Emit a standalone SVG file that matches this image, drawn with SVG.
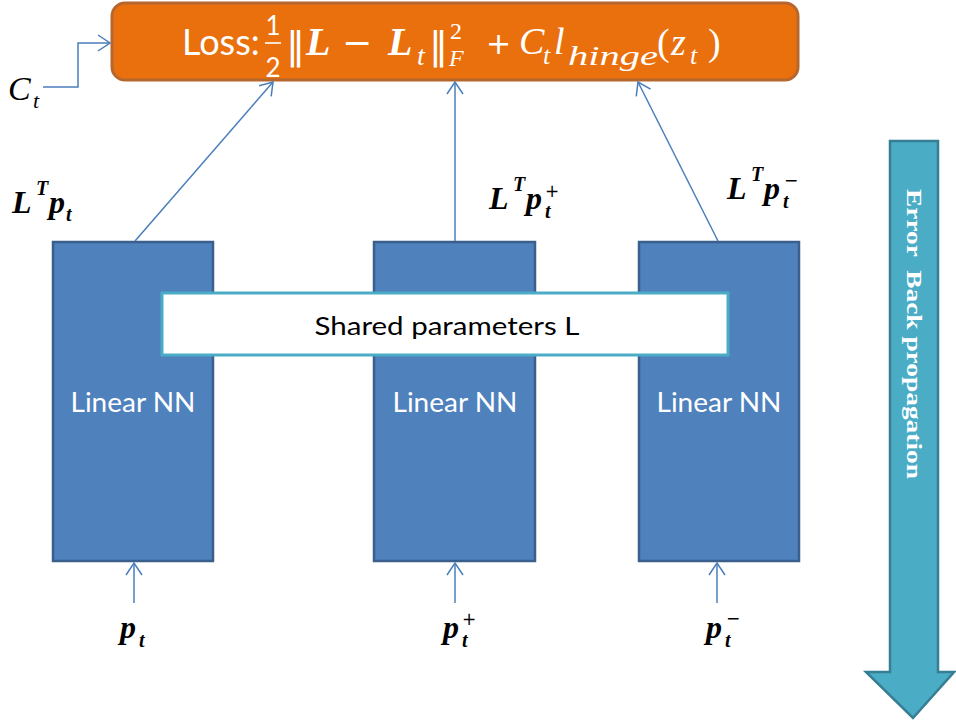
<svg xmlns="http://www.w3.org/2000/svg" width="956" height="725" viewBox="0 0 956 725">
<defs>
<style>
.nn{fill:#4F81BD;stroke:#3A5F8C;stroke-width:2.5}
.sans{font-family:Lato,"Liberation Sans",Arial,sans-serif}
.nnt{fill:#fff;font-size:26px;text-anchor:middle}
.m{font-family:"Liberation Serif","Times New Roman",serif;font-style:italic}
.op{font-family:"DejaVu Sans",sans-serif;font-style:normal}
.b{font-weight:bold}
.w{fill:#fff}
.k{fill:#000}
.c{fill:none;stroke:#4A7EBB;stroke-width:1.5}
</style>
<marker id="ah" markerUnits="userSpaceOnUse" markerWidth="14" markerHeight="18" viewBox="0 0 14 18" refX="13" refY="9" orient="auto">
<path d="M1,1 L13,9 L1,17" fill="none" stroke="#4A7EBB" stroke-width="1.5"/>
</marker>
</defs>

<g id="loss">
<rect x="112" y="3" width="686" height="77" rx="13" ry="13" fill="#E9700D" stroke="#B6672E" stroke-width="3"/>
<text x="182" y="55" class="w sans" font-size="36">Loss:</text>
<text x="273" y="35" class="w sans" font-size="26" text-anchor="middle">1</text>
<line x1="265" y1="43" x2="281" y2="43" stroke="#fff" stroke-width="1.6"/>
<text x="273" y="77" class="w sans" font-size="26" text-anchor="middle">2</text>
<g class="w m">
<text x="286" y="58" class="op" font-size="38">‖</text>
<text x="306" y="55" class="b" font-size="40">L</text>
<text x="342" y="55" class="op" font-size="36">−</text>
<text x="388" y="55" class="b" font-size="40">L</text>
<text x="417" y="65" font-size="28">t</text>
<text x="429" y="58" class="op" font-size="38">‖</text>
<text x="450" y="39" font-size="24" font-style="normal">2</text>
<text x="449" y="66" font-size="24">F</text>
<text x="486" y="54" class="op" font-size="30">+</text>
<text x="519" y="54" font-size="38">C</text>
<text x="543" y="64" font-size="26">t</text>
<text x="554" y="54" font-size="38">l</text>
<text x="568" y="65" font-size="28" textLength="90" lengthAdjust="spacingAndGlyphs">hinge</text>
<text x="657" y="55" font-size="38" font-style="normal">(</text>
<text x="671" y="55" font-size="38">z</text>
<text x="690" y="64" font-size="26">t</text>
<text x="708" y="55" font-size="38" font-style="normal">)</text>
</g>
</g>

<g id="ct-label" class="k m">
<text x="8" y="100" font-size="34">C</text>
<text x="33" y="108" font-size="22">t</text>
</g>

<g id="nn1">
<rect class="nn" x="53" y="242" width="160" height="319"/>
<text class="nnt sans" x="133" y="412" textLength="125" lengthAdjust="spacingAndGlyphs">Linear NN</text>
</g>
<g id="nn2">
<rect class="nn" x="374" y="242" width="161" height="319"/>
<text class="nnt sans" x="455" y="412" textLength="125" lengthAdjust="spacingAndGlyphs">Linear NN</text>
</g>
<g id="nn3">
<rect class="nn" x="639" y="242" width="160" height="319"/>
<text class="nnt sans" x="719" y="412" textLength="125" lengthAdjust="spacingAndGlyphs">Linear NN</text>
</g>

<g id="shared">
<rect x="162" y="293" width="566" height="62" fill="#fff" stroke="#4BACC6" stroke-width="3"/>
<text x="447" y="335" class="sans" font-size="25" text-anchor="middle" textLength="265" lengthAdjust="spacingAndGlyphs">Shared parameters L</text>
</g>

<g id="out-labels" class="k m b">
<text x="12" y="213" font-size="32">L</text>
<text x="36" y="195" font-size="20">T</text>
<text x="49" y="213" font-size="32">p</text>
<text x="66" y="221" font-size="20">t</text>

<text x="489" y="209" font-size="32">L</text>
<text x="513" y="191" font-size="20">T</text>
<text x="526" y="209" font-size="32">p</text>
<text x="545" y="218" font-size="20">t</text>
<text x="545" y="197" class="op" font-size="17" font-weight="normal">+</text>

<text x="727" y="199" font-size="32">L</text>
<text x="751" y="181" font-size="20">T</text>
<text x="764" y="199" font-size="32">p</text>
<text x="783" y="208" font-size="20">t</text>
<text x="784" y="186" class="op" font-size="17" font-weight="normal">−</text>
</g>

<g id="in-labels" class="k m b">
<text x="120" y="638" font-size="32">p</text>
<text x="139" y="647" font-size="20">t</text>
<text x="443" y="638" font-size="32">p</text>
<text x="462" y="647" font-size="20">t</text>
<text x="462" y="625" class="op" font-size="17" font-weight="normal">+</text>
<text x="706" y="638" font-size="32">p</text>
<text x="725" y="647" font-size="20">t</text>
<text x="726" y="624" class="op" font-size="17" font-weight="normal">−</text>
</g>

<g id="connectors">
<polyline class="c" points="43,87 78,87 78,43 110,43" marker-end="url(#ah)"/>
<line class="c" x1="135" y1="241" x2="273" y2="82" marker-end="url(#ah)"/>
<line class="c" x1="455" y1="241" x2="455" y2="82" marker-end="url(#ah)"/>
<line class="c" x1="718" y1="241" x2="638" y2="82" marker-end="url(#ah)"/>
<line class="c" x1="134" y1="603" x2="134" y2="563" marker-end="url(#ah)"/>
<line class="c" x1="455" y1="603" x2="455" y2="563" marker-end="url(#ah)"/>
<line class="c" x1="717" y1="603" x2="717" y2="563" marker-end="url(#ah)"/>
</g>

<g id="backprop">
<path d="M890,141 L938,141 L938,672 L954,672 L913,718 L866,672 L890,672 Z" fill="#4BACC6" stroke="#357E93" stroke-width="2.5" stroke-linejoin="miter"/>
<text transform="translate(907,189) rotate(90)" x="0" y="0" fill="#fff" font-family="Liberation Serif,'Times New Roman',serif" font-weight="bold" font-size="20" xml:space="preserve" textLength="290" lengthAdjust="spacingAndGlyphs">Error  Back propagation</text>
</g>
</svg>
